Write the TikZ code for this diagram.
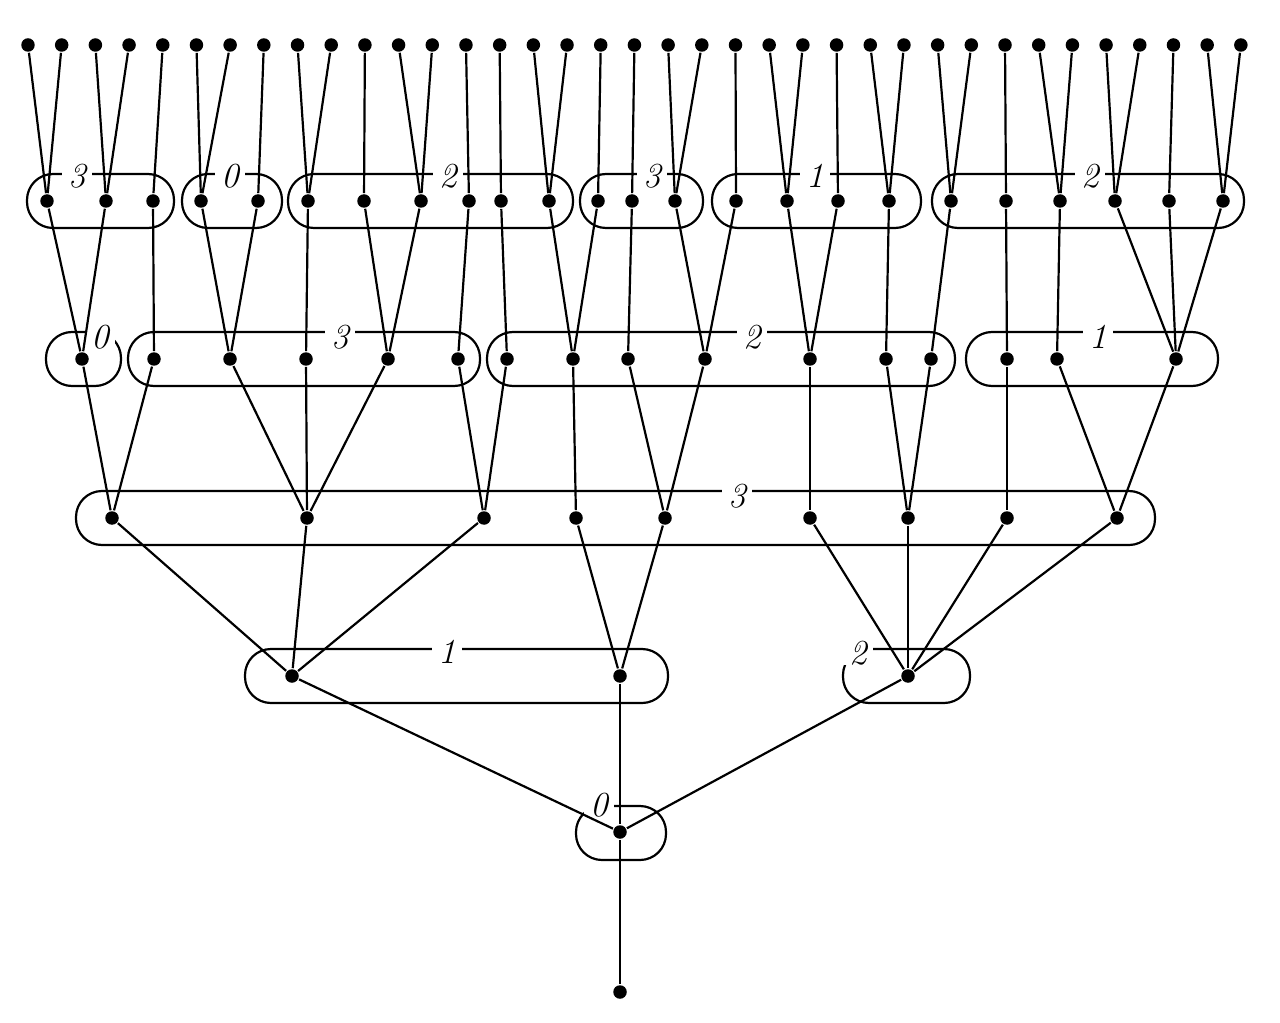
\documentclass[tikz,border=0pt]{standalone}
\usepackage{tikz}

\begin{document}
\begin{tikzpicture}[x=0.02cm,y=-0.02cm,line width=1.25pt,
  dot/.style={circle,fill,inner sep=0pt,minimum size=0.27cm},
  grp/.style={rounded corners=0.52cm},
  lbl/.style={fill=white,inner xsep=3.5pt,inner ysep=0pt,font=\fontsize{20}{24}\selectfont\itshape}]
\useasboundingbox (0,0) rectangle (1280,1023);
\foreach \l/\r/\y in {27/174/201,182/282/201,288/573/201,580/703/201,712/921/201,932/1244/201,
  46/121/359,128/480/359,487/955/359,966/1218/359,76/1155/518,245/668/676,843/970/676,576/666/833}
  \draw[grp] (\l,\y-27) rectangle (\r,\y+27);
\foreach \x/\y/\t [count=\i] in {77/176/3,230/176/0,448/176/2,652/176/3,815/176/1,1090/176/2,
  100/337/0,340/337/3,752/337/2,1098/337/1,737/496/3,447/652/1,858/653/2,599/805/0}
  \node[lbl] (l\i) at (\x,\y) {\t};
\foreach \i in {0,...,36} \node[dot] (t\i) at ({28+33.69*\i},45) {};
\foreach \x [count=\i] in {47,106,153,201,258,308,364,421,469,501,549,598,632,675,736,787,838,889,951,1006,1060,1115,1169,1223}
  \node[dot] (a\i) at (\x,201) {};
\foreach \x [count=\i] in {82,154,230,306,388,458,507,573,628,705,810,886,931,1007,1057,1176}
  \node[dot] (b\i) at (\x,359) {};
\foreach \x [count=\i] in {112,307,484,576,665,810,908,1007,1117}
  \node[dot] (c\i) at (\x,518) {};
\foreach \x [count=\i] in {292,620,908} \node[dot] (d\i) at (\x,676) {};
\node[dot] (e) at (620,832) {};
\node[dot] (r) at (620,992) {};
\foreach \i/\j in {0/1,1/1,2/2,3/2,4/3,5/4,6/4,7/5,8/6,9/6,10/7,11/8,12/8,13/9,14/10,15/11,16/11,17/12,18/13,
  19/14,20/14,21/15,22/16,23/16,24/17,25/18,26/18,27/19,28/19,29/20,30/21,31/21,32/22,33/22,34/23,35/24,36/24}
  \draw (t\i) -- (a\j);
\foreach \i/\j in {1/1,2/1,3/2,4/3,5/3,6/4,7/5,8/5,9/6,10/7,11/8,12/8,13/9,14/10,15/10,16/11,17/11,18/12,
  19/13,20/14,21/15,22/16,23/16,24/16}
  \draw (a\i) -- (b\j);
\foreach \i/\j in {1/1,2/1,3/2,4/2,5/2,6/3,7/3,8/4,9/5,10/5,11/6,12/7,13/7,14/8,15/9,16/9}
  \draw (b\i) -- (c\j);
\foreach \i/\j in {1/1,2/1,3/1,4/2,5/2,6/3,7/3,8/3,9/3} \draw (c\i) -- (d\j);
\foreach \i in {1,2,3} \draw (d\i) -- (e);
\draw (e) -- (r);
\end{tikzpicture}
\end{document}
